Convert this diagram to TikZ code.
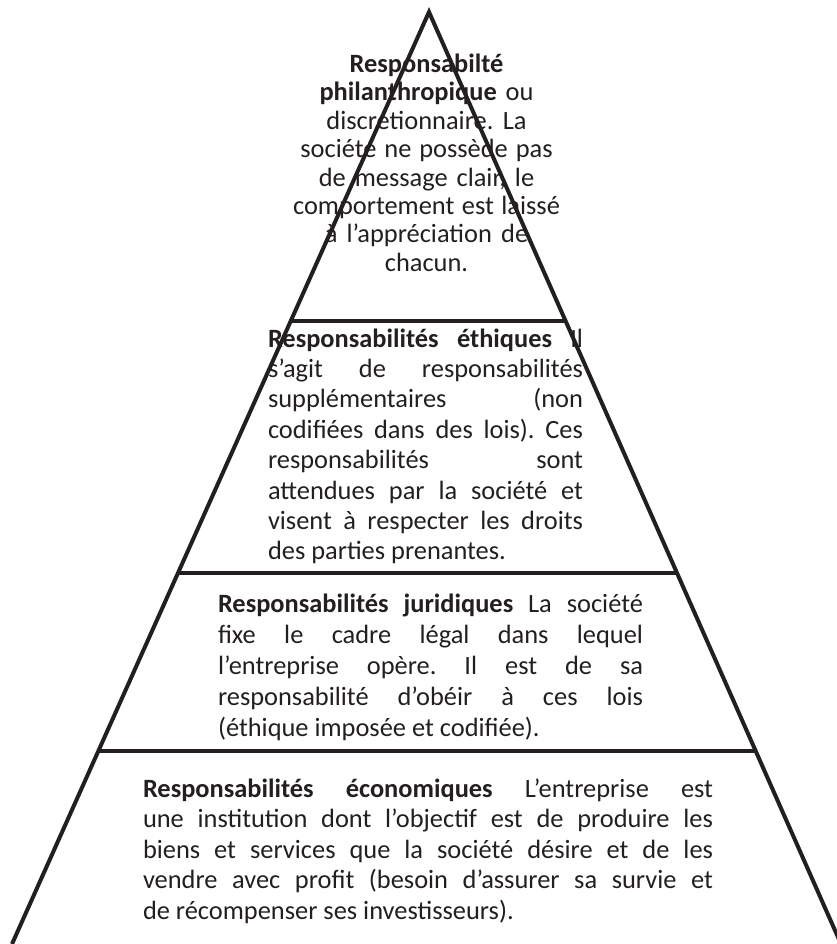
\documentclass[tikz,border=0pt]{standalone}
\usepackage{fontspec}
\setmainfont{Carlito}
\usetikzlibrary{calc}
\definecolor{ink}{HTML}{231F20}
\frenchspacing
% one justified line of fixed width
\newcommand{\jline}[2]{\makebox[#1][s]{#2}\\}
% first-line strut so that the node top sits a fixed distance above the baseline
\newcommand{\topstrut}{\rule{0pt}{24pt}}
% use the font's own interword spacing
\newcommand{\natspace}{\spaceskip=0pt\xspaceskip=0pt\relax}
\tikzset{
  pyr/.style={line width=4pt, draw=ink, line join=miter},
  tier/.style={line width=4pt, draw=ink},
  txt/.style={inner sep=0pt, outer sep=0pt, text=ink},
  lead/.style={font=\fontsize{26.4}{#1}\selectfont},
}
\begin{document}
\begin{tikzpicture}[x=1pt,y=-1pt]
\useasboundingbox (0,0) rectangle (836,944);

% pyramid outline
\coordinate (apex) at (429,12);
\coordinate (bl) at (12,944);
\coordinate (br) at (841,944);
\draw[pyr] (bl) -- (apex) -- (br);

% tier separators
\coordinate (a1) at ($(apex)!0.3315!(bl)$);
\coordinate (b1) at ($(apex)!0.3315!(br)$);
\coordinate (a2) at ($(apex)!0.6019!(bl)$);
\coordinate (b2) at ($(apex)!0.6019!(br)$);
\coordinate (a3) at ($(apex)!0.7929!(bl)$);
\coordinate (b3) at ($(apex)!0.7929!(br)$);
\draw[tier] (a1) -- (b1);
\draw[tier] (a2) -- (b2);
\draw[tier] (a3) -- (b3);

% top tier
\node[txt, lead=28.4, anchor=north, text width=320pt, align=center] (philo) at (426.5,48.5)
  {\natspace\topstrut\textbf{Responsabilté}\\
   \textbf{philanthropique} ou\\
   discrétionnaire. La\\
   société ne possède pas\\
   de message clair, le\\
   comportement est laissé\\
   à l’appréciation de\\
   chacun.};

% ethical tier
\node[txt, lead=30.4, anchor=north west, text width=315pt, align=justify] (ethique) at (268,323)
  {\natspace\topstrut\jline{315pt}{\textbf{Responsabilités éthiques} Il}%
   \jline{315pt}{s’agit de responsabilités}%
   \jline{315pt}{supplémentaires (non}%
   \jline{315pt}{codifiées dans des lois). Ces}%
   \jline{315pt}{responsabilités sont}%
   \jline{315pt}{attendues par la société et}%
   \jline{315pt}{visent à respecter les droits}%
   des parties prenantes.};

% legal tier
\node[txt, lead=31, anchor=north west, text width=425pt, align=justify] (juridique) at (218,588)
  {\natspace\topstrut\jline{425pt}{\textbf{Responsabilités juridiques} La société}%
   \jline{425pt}{fixe le cadre légal dans lequel}%
   \jline{425pt}{l’entreprise opère. Il est de sa}%
   \jline{425pt}{responsabilité d’obéir à ces lois}%
   (éthique imposée et codifiée).};

% economic tier
\node[txt, lead=30.5, anchor=north west, text width=570pt, align=justify] (eco) at (143,773)
  {\natspace\topstrut\jline{570pt}{\textbf{Responsabilités économiques} L’entreprise est}%
   \jline{570pt}{une institution dont l’objectif est de produire les}%
   \jline{570pt}{biens et services que la société désire et de les}%
   \jline{570pt}{vendre avec profit (besoin d’assurer sa survie et}%
   de récompenser ses investisseurs).};
\end{tikzpicture}
\end{document}
